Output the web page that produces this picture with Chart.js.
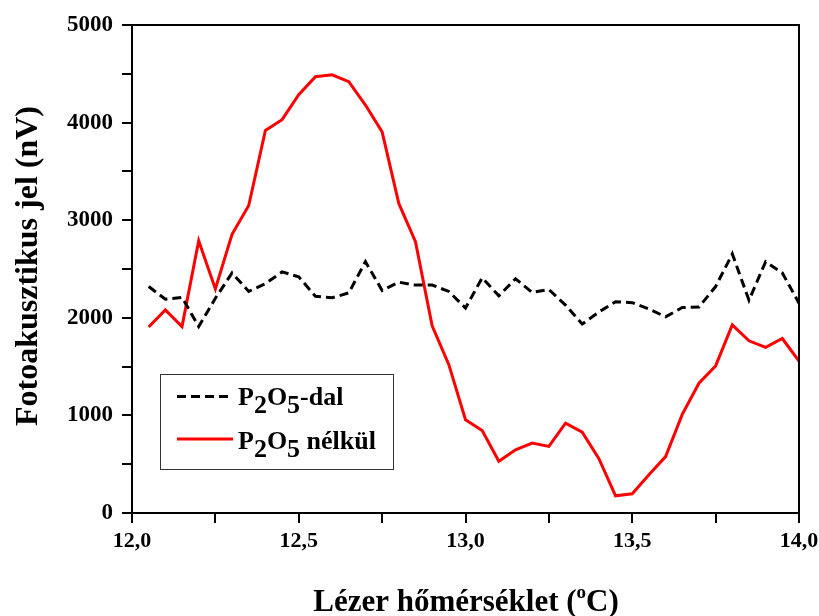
<!DOCTYPE html>
<html>
<head>
<meta charset="utf-8">
<script src="https://cdn.jsdelivr.net/npm/chart.js@4/dist/chart.umd.min.js"></script>
<style>
  html, body { margin: 0; padding: 0; background: #fff; }
  #wrap { width: 819px; height: 616px; position: relative; }
</style>
</head>
<body>
<div id="wrap"><canvas id="c" width="819" height="616"></canvas></div>
<script>
// Laser temperature (°C), 0.05 °C steps
const temperature = [
  12.05, 12.10, 12.15, 12.20, 12.25, 12.30, 12.35, 12.40, 12.45, 12.50,
  12.55, 12.60, 12.65, 12.70, 12.75, 12.80, 12.85, 12.90, 12.95, 13.00,
  13.05, 13.10, 13.15, 13.20, 13.25, 13.30, 13.35, 13.40, 13.45, 13.50,
  13.55, 13.60, 13.65, 13.70, 13.75, 13.80, 13.85, 13.90, 13.95, 14.00
];
// Photoacoustic signal (nV) with P2O5
const withP2O5 = [
  2320, 2190, 2210, 1910, 2200, 2460, 2270, 2350, 2470, 2420,
  2220, 2205, 2255, 2575, 2280, 2365, 2335, 2335, 2270, 2100,
  2410, 2225, 2400, 2260, 2290, 2130, 1936, 2060, 2165, 2155,
  2090, 2010, 2105, 2110, 2320, 2655, 2180, 2575, 2460, 2150
];
// Photoacoustic signal (nV) without P2O5
const withoutP2O5 = [
  1905, 2080, 1910, 2790, 2295, 2855, 3150, 3920, 4030, 4285,
  4470, 4490, 4420, 4180, 3905, 3172, 2780, 1918, 1520, 955,
  845, 530, 648, 716, 682, 920, 828, 556, 176, 197,
  392, 578, 1011, 1330, 1507, 1928, 1764, 1698, 1788, 1557
];
const yTicks = [0, 1000, 2000, 3000, 4000, 5000];
const xTicks = [12.0, 12.5, 13.0, 13.5, 14.0];

const FONT = '"Liberation Serif", "Times New Roman", serif';

function pts(xs, ys) { return xs.map((x, i) => ({ x: x, y: ys[i] })); }

// Frame on top/right, legend with subscripts, axis titles with sub/superscripts
const decorations = {
  id: 'decorations',
  afterDraw(chart) {
    const ctx = chart.ctx;
    const a = chart.chartArea;
    ctx.save();
    ctx.strokeStyle = '#000';
    ctx.lineWidth = 2;
    ctx.beginPath();
    ctx.moveTo(a.left, a.top);
    ctx.lineTo(a.right, a.top);
    ctx.lineTo(a.right, a.bottom);
    ctx.stroke();

    // legend box
    ctx.lineWidth = 1;
    ctx.strokeStyle = '#333';
    ctx.strokeRect(160.5, 374.5, 233, 95);

    const ds = chart.data.datasets;
    // entry 1: dashed black
    ctx.lineWidth = ds[0].borderWidth;
    ctx.strokeStyle = ds[0].borderColor;
    ctx.setLineDash(ds[0].borderDash);
    ctx.beginPath(); ctx.moveTo(177, 396.5); ctx.lineTo(228, 396.5); ctx.stroke();
    // entry 2: solid red
    ctx.setLineDash([]);
    ctx.lineWidth = ds[1].borderWidth;
    ctx.strokeStyle = ds[1].borderColor;
    ctx.beginPath(); ctx.moveTo(177, 439); ctx.lineTo(233, 439); ctx.stroke();

    ctx.fillStyle = '#000';
    ctx.textBaseline = 'alphabetic';
    ctx.textAlign = 'left';
    function runs(x, y, parts, size) {
      ctx.font = 'bold ' + size + 'px ' + FONT;
      parts.forEach(p => {
        ctx.fillText(p[0], x, y + p[1]);
        x += ctx.measureText(p[0]).width;
      });
    }
    runs(238, 405, [['P', 0], ['2', 8], ['O', 0], ['5', 8], ['-dal', 0]], 26);
    runs(238, 449, [['P', 0], ['2', 8], ['O', 0], ['5', 8], [' nélkül', 0]], 26);

    // y axis title
    ctx.save();
    ctx.translate(37, 266);
    ctx.rotate(-Math.PI / 2);
    ctx.textAlign = 'center';
    ctx.font = 'bold 32px ' + FONT;
    ctx.fillText('Fotoakusztikus jel (nV)', 0, 0);
    ctx.restore();

    // x axis title with superscript degree
    const big = 'bold 31px ' + FONT, small = 'bold 19px ' + FONT;
    const t1 = 'Lézer hőmérséklet (', t2 = 'o', t3 = 'C)';
    ctx.font = big;
    const w1 = ctx.measureText(t1).width;
    const w3 = ctx.measureText(t3).width;
    ctx.font = small;
    const w2 = ctx.measureText(t2).width;
    let x = 466 - (w1 + w2 + w3) / 2;
    const y = 611;
    ctx.font = big;
    ctx.fillText(t1, x, y); x += w1;
    ctx.font = small;
    ctx.fillText(t2, x, y - 13); x += w2;
    ctx.font = big;
    ctx.fillText(t3, x, y);
    ctx.restore();
  }
};

new Chart(document.getElementById('c'), {
  type: 'line',
  data: {
    datasets: [
      {
        label: 'P2O5-dal',
        data: pts(temperature, withP2O5),
        borderColor: '#000000',
        borderWidth: 3,
        borderDash: [9, 5],
        pointRadius: 0,
        tension: 0,
        fill: false
      },
      {
        label: 'P2O5 nélkül',
        data: pts(temperature, withoutP2O5),
        borderColor: '#ff0000',
        borderWidth: 3,
        pointRadius: 0,
        tension: 0,
        fill: false
      }
    ]
  },
  options: {
    responsive: false,
    animation: false,
    events: [],
    layout: { padding: { top: 25, right: 20, left: 0, bottom: 0 } },
    plugins: { legend: { display: false }, tooltip: { enabled: false } },
    scales: {
      x: {
        type: 'linear',
        min: 12, max: 14,
        border: { display: true, color: '#000', width: 2 },
        grid: { drawOnChartArea: false, color: '#000', lineWidth: 2, tickLength: 10 },
        ticks: {
          stepSize: 0.25,
          autoSkip: false,
          maxRotation: 0,
          padding: 5,
          color: '#000',
          font: { family: FONT, size: 22, weight: 'bold' },
          callback: v => xTicks.some(t => Math.abs(t - v) < 1e-6) ? v.toFixed(1).replace('.', ',') : ''
        },
        afterFit(s) { s.height = 103; s.paddingLeft = 0; s.paddingRight = 0; }
      },
      y: {
        min: 0, max: 5000,
        border: { display: true, color: '#000', width: 2 },
        grid: { drawOnChartArea: false, color: '#000', lineWidth: 2, tickLength: 10 },
        ticks: {
          stepSize: 500,
          autoSkip: false,
          padding: 9,
          color: '#000',
          font: { family: FONT, size: 23, weight: 'bold' },
          callback: v => yTicks.includes(v) ? String(v) : ''
        },
        afterFit(s) { s.width = 132; s.paddingTop = 0; s.paddingBottom = 0; }
      }
    }
  },
  plugins: [decorations]
});
</script>
</body>
</html>
